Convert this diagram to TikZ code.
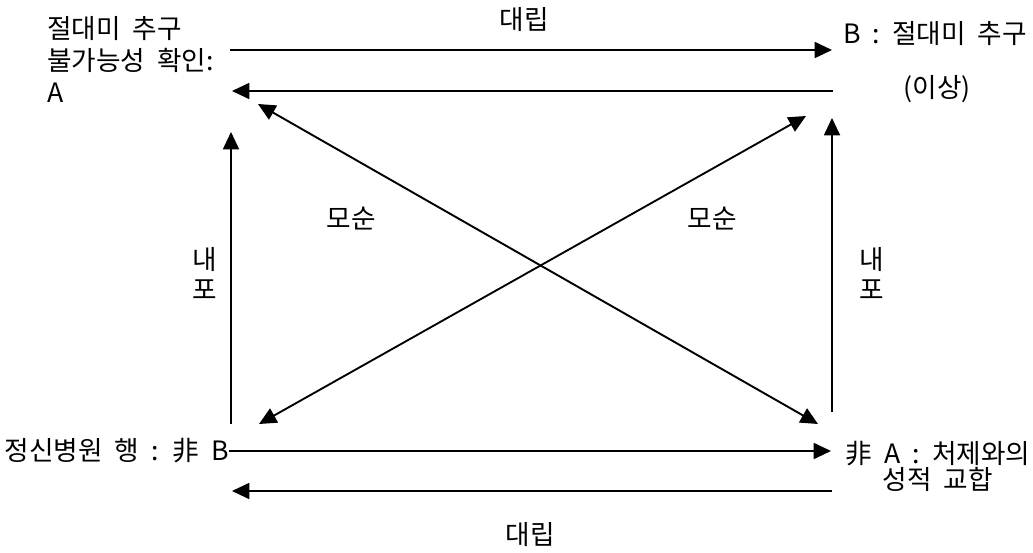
\documentclass[tikz,border=0pt]{standalone}
\usepackage{fontspec}
\setmainfont[WordSpace=2.0]{Noto Sans CJK KR}
\usepackage{tikz}
\usetikzlibrary{arrows.meta,positioning}
\definecolor{ink}{HTML}{000000}
\tikzset{
  lbl/.style={inner sep=0pt,text=ink,font=\fontsize{20pt}{24pt}\selectfont},
  arr/.style={-{Triangle[length=13pt,width=12pt]},line width=1.4pt,draw=ink},
  darr/.style={{Triangle[length=13pt,width=12pt]}-{Triangle[length=13pt,width=12pt]},
    line width=1.4pt,draw=ink},
}
\begin{document}
\begin{tikzpicture}[x=0.75pt,y=-0.75pt]
    \useasboundingbox (0,0) rectangle (1033,553);
    % corner texts
    \node[lbl,anchor=west,align=left] (A) at (47,59) {절대미 추구\\불가능성 확인:\\A};
    \node[lbl,anchor=west] (B) at (843,34) {B : 절대미 추구};
    \node[lbl] (ideal) at (937,89) {(이상)};
    \node[lbl,anchor=east] (notB) at (229,451) {정신병원 행 : 非 B};
    \node[lbl,align=center,font=\fontsize{20pt}{18.5pt}\selectfont] (notA) at (938,466) {非 A : 처제와의\\성적 교합};
    % relation labels
    \node[lbl] (opp1) at (524,20) {대립};
    \node[lbl] (opp2) at (530,535) {대립};
    \node[lbl] (con1) at (351,219) {모순};
    \node[lbl] (con2) at (712,219) {모순};
    \node[lbl,align=center,font=\fontsize{20pt}{22.5pt}\selectfont] (imp1) at (205,273) {내\\포};
    \node[lbl,align=center,font=\fontsize{20pt}{22.5pt}\selectfont] (imp2) at (872,273) {내\\포};
    % arrow ends
    \coordinate (a1) at (230,50);  \coordinate (b1) at (832,50);
    \coordinate (b2) at (833,91);  \coordinate (a2) at (232,91);
    \coordinate (a3) at (231,132); \coordinate (nb3) at (231,424);
    \coordinate (b3) at (832,118); \coordinate (na3) at (832,412);
    \coordinate (a4) at (258,104); \coordinate (na4) at (818,424);
    \coordinate (b4) at (806,116); \coordinate (nb4) at (259,424);
    \coordinate (na5) at (831,451);
    \coordinate (na6) at (832,491); \coordinate (nb6) at (232,491);
    % contrary
    \draw[arr] (a1) -- (b1);
    \draw[arr] (b2) -- (a2);
    \draw[arr] (notB.east) -- (na5);
    \draw[arr] (na6) -- (nb6);
    % implication
    \draw[arr] (nb3) -- (a3);
    \draw[arr] (na3) -- (b3);
    % contradiction
    \draw[darr] (a4) -- (na4);
    \draw[darr] (nb4) -- (b4);
\end{tikzpicture}
\end{document}
